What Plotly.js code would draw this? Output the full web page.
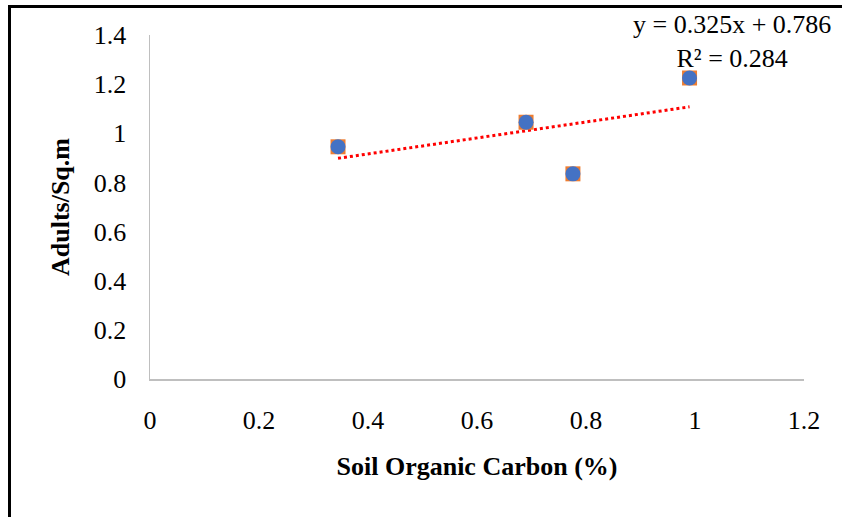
<!DOCTYPE html>
<html>
<head>
<meta charset="utf-8">
<script src="https://cdn.plot.ly/plotly-3.0.1.min.js"></script>
<style>
  html, body { margin: 0; padding: 0; background: #fff; }
  #myDiv { width: 842px; height: 517px; }
  #frame {
    position: absolute; left: 8px; top: 5px; width: 840px; height: 509px;
    border-left: 3px solid #000; border-top: 3px solid #000; border-bottom: 1px solid #888;
    pointer-events: none;
  }
</style>
</head>
<body>
<div id="myDiv"></div>
<div id="frame"></div>
<script>
// soil organic carbon (%) vs adults per square metre
let soil_carbon = [0.345, 0.69, 0.776, 0.99];
let adults_sqm = [0.945, 1.045, 0.835, 1.225];

// trendline as printed on the chart
let trend_slope = 0.325;
let trend_intercept = 0.786;
let trend_label = ["y = 0.325x + 0.786", "R² = 0.284"];

function scatterChart() {
  let xmin = Math.min(...soil_carbon);
  let xmax = Math.max(...soil_carbon);
  let trendX = [xmin, xmax];
  let trendY = trendX.map(v => trend_slope * v + trend_intercept);

  let data = [
    {
      x: trendX, y: trendY, mode: 'lines', type: 'scatter',
      line: {color: '#ff0000', width: 3, dash: 'dot'},
      hoverinfo: 'skip'
    },
    {
      x: soil_carbon, y: adults_sqm, mode: 'markers', type: 'scatter',
      marker: {symbol: 'square', size: 15, color: '#ED7D31'}
    },
    {
      x: soil_carbon, y: adults_sqm, mode: 'markers', type: 'scatter',
      marker: {symbol: 'circle', size: 15, color: '#4472C4'}
    }
  ];

  let serif = 'Liberation Serif, Times New Roman, serif';
  let tickFont = {family: serif, size: 26, color: '#000'};
  let titleFont = {family: serif, size: 26, color: '#000', weight: 'bold'};

  let layout = {
    width: 842, height: 517,
    margin: {l: 150, r: 38, t: 35, b: 138},
    showlegend: false,
    paper_bgcolor: '#fff', plot_bgcolor: '#fff',
    xaxis: {
      range: [0, 1.2], dtick: 0.2, tick0: 0,
      showgrid: false, zeroline: false,
      showline: true, linecolor: '#bfbfbf', linewidth: 1.5,
      ticks: '', ticklabelstandoff: 17,
      tickfont: tickFont,
      title: {text: '<b>Soil Organic Carbon (%)</b>', font: titleFont, standoff: 23}
    },
    yaxis: {
      range: [0, 1.4], dtick: 0.2, tick0: 0,
      showgrid: false, zeroline: false,
      showline: true, linecolor: '#bfbfbf', linewidth: 1.5,
      ticks: '', ticklabelstandoff: 17,
      tickfont: tickFont,
      title: {text: '<b>Adults/Sq.m</b>', font: titleFont, standoff: 16}
    },
    annotations: [{
      xref: 'paper', yref: 'paper', x: 0.89, y: 0.98,
      xanchor: 'center', yanchor: 'middle',
      text: trend_label.join('<br>'), showarrow: false,
      align: 'center',
      font: {family: serif, size: 26, color: '#000'}
    }]
  };

  Plotly.newPlot('myDiv', data, layout, {displayModeBar: false, staticPlot: true});
}

(function() {
  scatterChart();
})();
</script>
</body>
</html>
